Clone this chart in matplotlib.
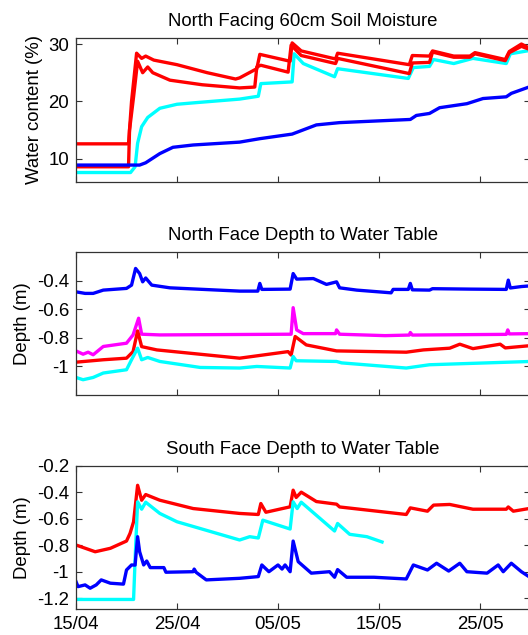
import matplotlib
matplotlib.use("Agg")
import matplotlib.pyplot as plt

plt.rcParams['font.family'] = ['Liberation Sans', 'DejaVu Sans']

# ---------------- data (days since 15/04) ----------------
tick_days = [0, 10, 20, 30, 40]
tick_labels = ['15/04', '25/04', '05/05', '15/05', '25/05']

titles = ['North Facing 60cm Soil Moisture',
          'North Face Depth to Water Table',
          'South Face Depth to Water Table']
ylabels = ['Water content (%)', 'Depth (m)', 'Depth (m)']

# Panel 1: soil moisture (%)
sm_red1_day = [0, 5.2, 5.5, 6.0, 6.5, 6.9, 7.7, 10, 13, 15.8, 16.2, 17.9, 18.2, 21.2, 21.4, 22.3, 25.7, 25.9,
               33.0, 33.3, 35.0, 35.3, 37.4, 39.0, 39.5, 42.5, 42.9, 44.1, 45]
sm_red1_val = [12.6, 12.6, 20.0, 28.4, 27.5, 27.9, 27.2, 26.4, 25.0, 23.9, 24.1, 25.7, 28.2, 27.0, 30.2, 28.8, 27.4, 28.4,
               26.4, 28.0, 27.9, 28.8, 27.9, 27.9, 28.5, 27.3, 28.7, 30.0, 29.2]

sm_red2_day = [0, 5.2, 5.3, 5.7, 6.1, 6.6, 7.1, 7.6, 9.3, 12.5, 16.2, 17.7, 17.9, 18.3, 21.0, 21.3, 22.3, 25.7, 25.9,
               33.0, 33.3, 35.0, 35.3, 37.4, 39.0, 39.5, 42.5, 42.9, 44.1, 45]
sm_red2_val = [8.6, 8.6, 15.0, 20.8, 27.0, 25.0, 26.0, 25.0, 23.7, 22.9, 22.35, 22.5, 26.0, 26.3, 25.1, 29.8, 28.0, 26.6, 27.5,
               24.85, 26.7, 26.8, 28.6, 27.7, 27.7, 28.3, 27.1, 28.5, 29.6, 29.0]

sm_cyan_day = [0, 5.4, 5.85, 6.1, 6.5, 7.1, 8.3, 10, 12, 16.2, 18.05, 18.3, 21.4, 21.6, 22.5, 25.6, 25.9,
               32.9, 33.4, 35.0, 35.4, 37.4, 39.3, 42.6, 43.0, 45]
sm_cyan_val = [7.6, 7.6, 8.6, 12.7, 15.6, 17.2, 18.8, 19.5, 19.8, 20.4, 20.9, 23.1, 23.4, 28.3, 26.6, 24.3, 25.7,
               24.0, 25.9, 26.1, 27.3, 26.6, 27.5, 26.6, 28.3, 28.9]

sm_blue_day = [0, 6.3, 6.9, 8.3, 9.6, 11.6, 16.2, 18.2, 21.4, 23.8, 26.1, 33.1, 33.7, 35.0, 36.0, 38.7, 40.3,
               42.6, 43.1, 45]
sm_blue_val = [8.9, 8.9, 9.3, 10.9, 12.0, 12.4, 12.9, 13.5, 14.3, 15.9, 16.3, 16.85, 17.55, 17.9, 18.9, 19.6, 20.5,
               20.8, 21.4, 22.6]

# Panel 2: north face depth (m)
nd_blue_day = [0, 0.9, 1.7, 2.7, 5.0, 5.5, 5.9, 6.3, 6.6, 6.9, 7.5, 9.3, 16.2, 18.0, 18.2, 18.4, 21.2, 21.5,
               21.85, 23.5, 24.8, 25.8, 26.1, 27.8, 31.2, 31.4, 32.9, 33.1, 33.3, 35.0, 35.3, 39.0, 42.6,
               42.8, 43.0, 44.1, 45]
nd_blue_val = [-0.477, -0.488, -0.488, -0.465, -0.453, -0.43, -0.313, -0.349, -0.407, -0.38, -0.43, -0.449,
               -0.472, -0.472, -0.418, -0.46, -0.458, -0.349, -0.388, -0.384, -0.425, -0.407, -0.449, -0.465,
               -0.484, -0.46, -0.46, -0.418, -0.463, -0.465, -0.455, -0.458, -0.46, -0.395, -0.45, -0.44, -0.435]

nd_mag_day = [0, 0.7, 1.2, 1.7, 2.7, 5.0, 5.65, 6.2, 6.5, 8.3, 16.2, 21.3, 21.5, 21.85, 22.5, 25.7, 25.8,
              26.1, 30.6, 33.0, 33.1, 33.3, 42.6, 42.75, 42.9, 45]
nd_mag_val = [-0.891, -0.914, -0.9, -0.918, -0.86, -0.837, -0.779, -0.662, -0.774, -0.779, -0.776, -0.774,
              -0.588, -0.744, -0.770, -0.77, -0.744, -0.774, -0.784, -0.78, -0.762, -0.78, -0.775, -0.744,
              -0.772, -0.77]

nd_red_day = [0, 2.7, 5.0, 5.65, 6.1, 6.5, 8.0, 16.2, 21.0, 21.3, 21.7, 22.8, 25.8, 32.7, 34.4, 37.0, 38.0,
              39.3, 42.0, 42.5, 45]
nd_red_val = [-0.97, -0.953, -0.942, -0.896, -0.751, -0.861, -0.884, -0.942, -0.896, -0.92, -0.79, -0.849,
              -0.891, -0.9, -0.884, -0.872, -0.844, -0.875, -0.844, -0.87, -0.854]

nd_cyan_day = [0, 0.7, 1.7, 2.7, 5.0, 5.5, 6.1, 6.5, 7.1, 8.3, 12.3, 16.2, 17.9, 21.2, 21.5, 21.8, 25.8,
               26.3, 32.7, 35.0, 45]
nd_cyan_val = [-1.077, -1.093, -1.077, -1.046, -1.023, -0.953, -0.872, -0.953, -0.937, -0.965, -1.007,
               -1.011, -1.0, -1.011, -0.93, -0.96, -0.965, -0.975, -1.011, -0.988, -0.965]

# Panel 3: south face depth (m)
sd_red_day = [0, 1.9, 3.4, 5.0, 5.35, 5.7, 6.1, 6.5, 6.9, 8.3, 11.6, 16.2, 18.05, 18.3, 18.8, 21.2, 21.5,
              21.8, 22.3, 23.8, 25.8, 26.1, 32.7, 33.1, 34.8, 35.4, 37.0, 39.3, 42.6, 42.8, 43.3, 45]
sd_red_val = [-0.798, -0.849, -0.823, -0.768, -0.71, -0.622, -0.346, -0.459, -0.416, -0.459, -0.522, -0.559,
              -0.567, -0.484, -0.55, -0.509, -0.383, -0.438, -0.398, -0.469, -0.489, -0.51, -0.567, -0.517,
              -0.542, -0.496, -0.491, -0.527, -0.527, -0.51, -0.542, -0.52]

sd_cyan_day = [0, 5.7, 5.87, 6.1, 6.5, 6.9, 8.3, 10.0, 16.2, 17.2, 18.05, 18.5, 19.5, 21.2, 21.5, 21.9,
               22.3, 25.6, 25.9, 27.1, 28.8, 30.3]
sd_cyan_val = [-1.21, -1.21, -0.874, -0.471, -0.527, -0.474, -0.559, -0.622, -0.76, -0.735, -0.745, -0.61,
               -0.635, -0.677, -0.471, -0.522, -0.474, -0.692, -0.635, -0.717, -0.735, -0.775]

sd_blue_day = [0, 0.2, 0.9, 1.4, 2.0, 2.5, 3.4, 4.7, 5.0, 5.5, 5.85, 6.1, 6.3, 6.7, 7.0, 7.35, 8.7, 8.9,
               11.6, 11.7, 11.9, 12.9, 16.2, 18.05, 18.4, 19.1, 20.0, 20.4, 20.7, 21.2, 21.5, 22.0, 23.3,
               25.1, 25.6, 25.9, 26.8, 29.5, 32.7, 33.4, 34.8, 35.7, 36.9, 38.0, 38.7, 40.7, 41.8, 42.3,
               43.1, 44.1, 45]
sd_blue_val = [-1.075, -1.113, -1.1, -1.125, -1.1, -1.062, -1.087, -1.094, -0.987, -0.949, -0.95, -0.735,
               -0.849, -0.949, -0.919, -0.969, -0.969, -1.004, -1.0, -0.98, -1.005, -1.062, -1.05, -1.037,
               -0.949, -1.0, -0.949, -0.98, -0.949, -1.0, -0.768, -0.924, -1.011, -1.0, -1.042, -0.984,
               -1.042, -1.042, -1.055, -0.949, -0.987, -0.936, -0.995, -0.936, -1.0, -1.011, -0.949, -1.0,
               -0.936, -1.0, -1.045]

# ---------------- figure ----------------
RED, BLUE, CYAN, MAG = '#ff0000', '#0000ff', '#00ffff', '#ff00ff'
LW = 2.4
FS = 13.4
SPINE = '#333333'

fig = plt.figure(figsize=(5.28, 6.35), dpi=100)
PX_PER_DAY = 10.1
L_PX, R_PX = 76, 530
W = (R_PX - L_PX) / 528
L = L_PX / 528
X_MAX = (R_PX - L_PX) / PX_PER_DAY
positions = [
    [L, 1 - 181.7 / 635, W, (181.7 - 38.3) / 635],
    [L, 1 - 395.0 / 635, W, (395.0 - 252.3) / 635],
    [L, 1 - 608.7 / 635, W, (608.7 - 466.0) / 635],
]
axes = [fig.add_axes(p) for p in positions]

ax1, ax2, ax3 = axes
ax1.plot(sm_cyan_day, sm_cyan_val, color=CYAN, lw=LW)
ax1.plot(sm_red1_day, sm_red1_val, color=RED, lw=LW)
ax1.plot(sm_red2_day, sm_red2_val, color=RED, lw=LW)
ax1.plot(sm_blue_day, sm_blue_val, color=BLUE, lw=LW)
ax1.set_ylim(6, 31)
ax1.set_yticks([10, 20, 30])

ax2.plot(nd_blue_day, nd_blue_val, color=BLUE, lw=LW)
ax2.plot(nd_mag_day, nd_mag_val, color=MAG, lw=LW)
ax2.plot(nd_red_day, nd_red_val, color=RED, lw=LW)
ax2.plot(nd_cyan_day, nd_cyan_val, color=CYAN, lw=LW)
ax2.set_ylim(-1.2, -0.2)
ax2.set_yticks([-1.0, -0.8, -0.6, -0.4])
ax2.set_yticklabels(['-1', '-0.8', '-0.6', '-0.4'])

ax3.plot(sd_red_day, sd_red_val, color=RED, lw=LW)
ax3.plot(sd_cyan_day, sd_cyan_val, color=CYAN, lw=LW)
ax3.plot(sd_blue_day, sd_blue_val, color=BLUE, lw=LW)
ax3.set_ylim(-1.28, -0.2)
ax3.set_yticks([-1.2, -1.0, -0.8, -0.6, -0.4, -0.2])
ax3.set_yticklabels(['-1.2', '-1', '-0.8', '-0.6', '-0.4', '-0.2'])

for i, ax in enumerate(axes):
    ax.set_xlim(0, X_MAX)
    ax.set_xticks(tick_days)
    if i == 2:
        ax.set_xticklabels(tick_labels)
    else:
        ax.set_xticklabels([])
    ax.tick_params(direction='in', top=True, right=True, length=4, width=0.8,
                   labelsize=FS, pad=5, colors='black')
    ax.tick_params(axis='both', color=SPINE)
    for s in ax.spines.values():
        s.set_color(SPINE)
        s.set_linewidth(0.9)
    ax.set_title(titles[i], fontsize=FS, pad=9)
    ax.set_ylabel(ylabels[i], fontsize=FS, labelpad=4)

fig.savefig('out.png', dpi=100)
